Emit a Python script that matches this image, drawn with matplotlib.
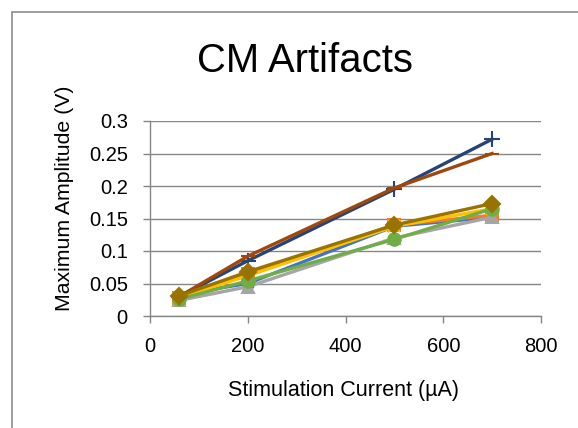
import matplotlib
matplotlib.use('Agg')
import matplotlib.pyplot as plt
from matplotlib.patches import Rectangle

plt.rcParams['font.family'] = ['Liberation Sans', 'DejaVu Sans']

# stimulation currents (uA)
current = [60, 200, 500, 700]

# max amplitude (V) per recording
amp_star = [0.033, 0.050, 0.138, 0.152]
amp_square = [0.028, 0.065, 0.140, 0.155]
amp_triangle = [0.024, 0.045, 0.120, 0.152]
amp_x = [0.028, 0.062, 0.138, 0.165]
amp_circle = [0.026, 0.054, 0.118, 0.165]
amp_plus = [0.030, 0.085, 0.195, 0.272]
amp_dash = [0.030, 0.092, 0.197, 0.250]
amp_diamond = [0.031, 0.068, 0.140, 0.173]

xticks = [0, 200, 400, 600, 800]
yticks = [0, 0.05, 0.1, 0.15, 0.2, 0.25, 0.3]
ytick_labels = ['0', '0.05', '0.1', '0.15', '0.2', '0.25', '0.3']

series = [
    (amp_star, '#4472C4', (6, 2, 0), 9),
    (amp_square, '#ED7D31', 's', 8),
    (amp_triangle, '#A5A5A5', '^', 9),
    (amp_x, '#FFC000', 'x', 8),
    (amp_circle, '#70AD47', 'o', 9),
    (amp_plus, '#264478', '+', 12),
    (amp_dash, '#9E480E', '_', 10),
    (amp_diamond, '#997300', 'D', 8),
]

fig = plt.figure(figsize=(5.78, 4.28), dpi=100)
ax = fig.add_axes([150/578, 1 - 316/428, 391/578, 195/428])

for vals, col, mk, ms in series:
    ax.plot(current, vals, color=col, lw=2.4, marker=mk, ms=ms,
            mec=col, mfc=col, mew=1.5)

ax.set_xlim(0, 800)
ax.set_ylim(0, 0.3)
ax.set_xticks(xticks)
ax.set_yticks(yticks)
ax.set_yticklabels(ytick_labels)
ax.tick_params(labelsize=14.5, color='#868686', length=5, width=1)
ax.tick_params(axis='y', pad=11)
ax.tick_params(axis='x', pad=10)
ax.yaxis.grid(True, color='#868686', lw=1)
ax.set_axisbelow(True)
for s in ['top', 'right']:
    ax.spines[s].set_visible(False)
for s in ['left', 'bottom']:
    ax.spines[s].set_color('#868686')
    ax.spines[s].set_linewidth(1)

fig.text(344/578, 1 - 396/428, 'Stimulation Current (µA)', fontsize=15.5, ha='center', va='baseline')
fig.text(64/578, 1 - 198/428, 'Maximum Amplitude (V)', fontsize=15.3, rotation=90, ha='center', va='center')
fig.text(305/578, 1 - 72/428, 'CM Artifacts', fontsize=28.8, ha='center', va='baseline')

# chart border
fig.patches.append(Rectangle((12/578, -0.1), 1.1, 1 - 12/428 + 0.1, transform=fig.transFigure,
                             fill=False, edgecolor='#8c8c8c', lw=1.2))

fig.savefig('out.png', dpi=100)
